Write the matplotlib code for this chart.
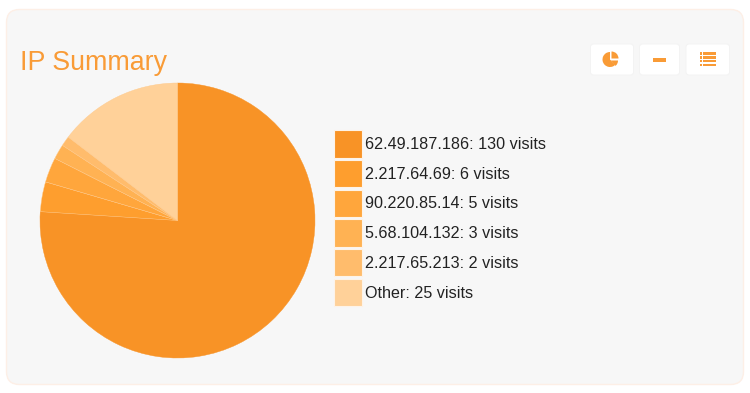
import matplotlib
matplotlib.use("Agg")
import matplotlib.pyplot as plt
from matplotlib.patches import FancyBboxPatch, Rectangle, Wedge

plt.rcParams['font.family'] = ['Liberation Sans', 'DejaVu Sans']

title = "IP Summary"
ips = ["62.49.187.186", "2.217.64.69", "90.220.85.14", "5.68.104.132", "2.217.65.213", "Other"]
visits = [130, 6, 5, 3, 2, 25]
colors = ["#F89326", "#FE9E2E", "#FFA63C", "#FFB253", "#FFBC6C", "#FFD199"]

W, H = 750, 393
fig = plt.figure(figsize=(W / 100, H / 100), dpi=100, facecolor="white")
bg = fig.add_axes([0, 0, 1, 1])
bg.set_xlim(0, W)
bg.set_ylim(H, 0)
bg.axis("off")

# Card
bg.add_patch(FancyBboxPatch((6.5, 9.5), 737, 375, boxstyle="round,pad=0,rounding_size=13",
                            fc="#F7F7F7", ec="#FDEFE6", lw=1))
bg.text(20, 70, title, color="#F99B36", fontsize=19.3, va="baseline", ha="left")

# Buttons
for x, w in [(590.5, 43), (639.5, 40), (686, 43.5)]:
    bg.add_patch(FancyBboxPatch((x, 44), w, 31, boxstyle="round,pad=0,rounding_size=3",
                                fc="white", ec="#F3F3F3", lw=0.7))
ic = "#F99B36"
# Pie icon: y axis is inverted, so these wedge angles run clockwise on screen
bg.add_patch(Wedge((610, 59.5), 7.5, 0, 270, fc=ic, ec="none"))
bg.add_patch(Wedge((610, 59.5), 9, -90, 45, fc="white", ec="none", zorder=3))
bg.add_patch(Wedge((611.5, 58.5), 7, -90, 0, fc=ic, ec="none", zorder=4))
bg.add_patch(Wedge((611, 60.5), 7, 0, 50, fc=ic, ec="none", zorder=4))
bg.add_patch(Rectangle((653, 57.5), 13, 4, fc=ic, ec="none"))
for y in [53.5, 57.3, 61.1, 64.9]:
    bg.add_patch(Rectangle((699.5, y - 1.4), 2.6, 2.8, fc=ic, ec="none"))
    bg.add_patch(Rectangle((703, y - 1.4), 13, 2.8, fc=ic, ec="none"))

# Pie
cx, cy, r = 177.5, 220.5, 137.5
ax = fig.add_axes([(cx - r) / W, 1 - (cy + r) / H, 2 * r / W, 2 * r / H])
ax.pie(visits, colors=colors, startangle=90, counterclock=False, radius=1,
       wedgeprops=dict(linewidth=0.3, edgecolor="#FFC98A"))
ax.set_xlim(-1, 1)
ax.set_ylim(-1, 1)
for w in ax.patches[:1]:
    w.set_edgecolor(colors[0])

# Legend
y0, step = 143.6, 29.7
for i, (ip, v, c) in enumerate(zip(ips, visits, colors)):
    y = y0 + i * step
    bg.add_patch(Rectangle((334, y - 13.5), 27.5, 27.5, fc=c, ec="#FDF3E8", lw=0.8))
    label = f"{ip}: {v} visits"
    bg.text(365, y + 5.5, label, color="#222222", fontsize=11.65, va="baseline", ha="left")

fig.savefig("out.png", dpi=100, facecolor="white")
